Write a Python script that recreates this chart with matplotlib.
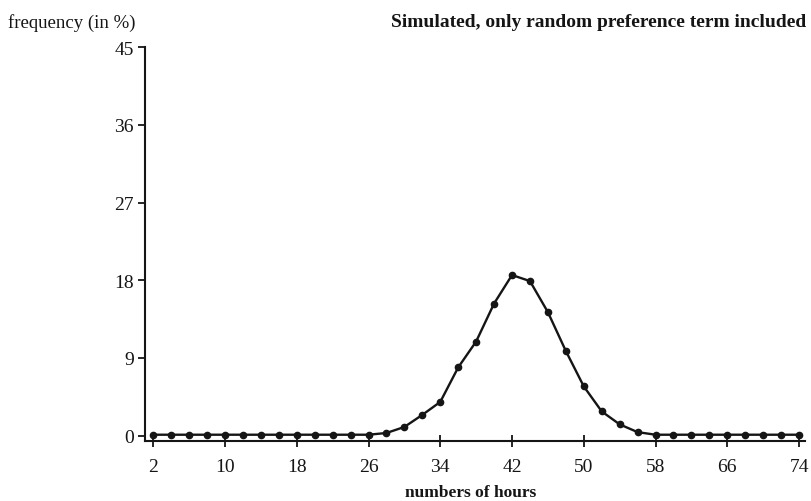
import matplotlib
matplotlib.use("Agg")
import matplotlib.pyplot as plt

# hours worked, every 2 hours from 2 to 74
hours = list(range(2, 76, 2))

# simulated frequency (in %)
frequency = [
    0.1, 0.1, 0.1, 0.1, 0.1, 0.1, 0.1, 0.1, 0.1, 0.1, 0.1, 0.1, 0.1,  # 2..26
    0.3, 1.0, 2.4, 3.9, 7.9, 10.9, 15.3, 18.6, 17.9,  # 28..44
    14.3, 9.8, 5.7, 2.8, 1.3, 0.4,  # 46..56
    0.1, 0.1, 0.1, 0.1, 0.1, 0.1, 0.1, 0.1, 0.1,  # 58..74
]

x_ticks = [2, 10, 18, 26, 34, 42, 50, 58, 66, 74]
y_ticks = [0, 9, 18, 27, 36, 45]

plt.rcParams["font.family"] = ["Liberation Serif", "DejaVu Serif"]
ink = "#151515"

fig = plt.figure(figsize=(8.11, 5.02), dpi=100)
ax = fig.add_axes([0.179, 0.12, 0.814, 0.784])

ax.plot(
    hours,
    frequency,
    color=ink,
    linewidth=1.7,
    marker="o",
    markersize=4.5,
)

ax.set_xlim(1.1, 74.7)
ax.set_ylim(-0.6, 45)
ax.set_xticks(x_ticks)
ax.set_yticks(y_ticks)

for side in ["top", "right"]:
    ax.spines[side].set_visible(False)
for side in ["left", "bottom"]:
    ax.spines[side].set_linewidth(1.5)
    ax.spines[side].set_color(ink)

ax.tick_params(axis="x", direction="inout", length=9, width=1.3,
               labelsize=14, colors=ink, pad=8)
ax.tick_params(axis="y", direction="out", length=5, width=1.3,
               labelsize=14, colors=ink, pad=3)

fig.text(0.01, 0.955, "frequency (in %)", fontsize=13.5, color=ink,
         ha="left", va="center")
fig.text(0.994, 0.955, "Simulated, only random preference term included",
         fontsize=14, fontweight="bold", color=ink, ha="right", va="center")
fig.text(0.58, 0.018, "numbers of hours", fontsize=12.5, fontweight="bold",
         color=ink, ha="center", va="center")

fig.savefig("out.png", dpi=100)
